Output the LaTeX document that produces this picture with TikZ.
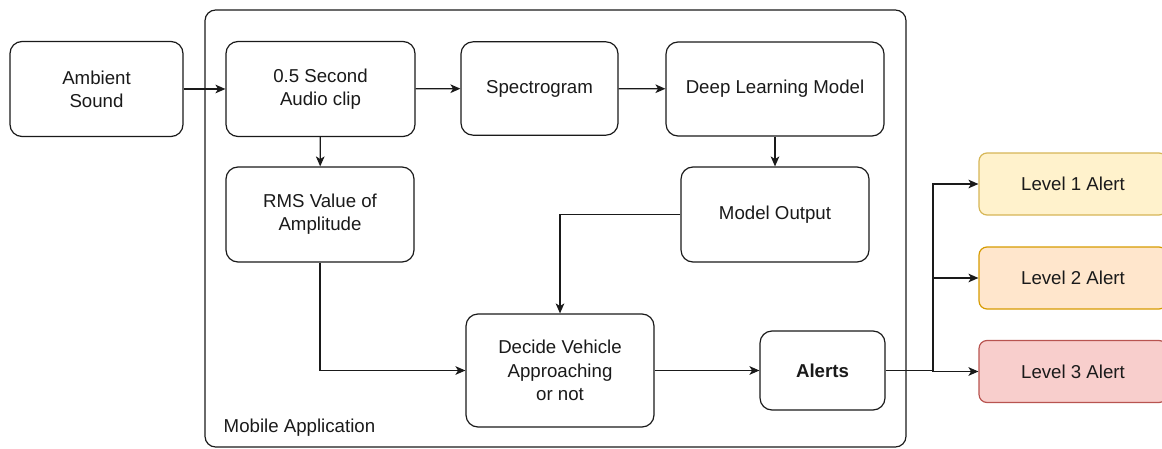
\documentclass[tikz,border=0pt]{standalone}
\usepackage{fontspec}
\setmainfont{Liberation Sans}
\usepackage{xcolor}
\usepackage{tikz}
\usetikzlibrary{calc,arrows.meta,positioning}
\definecolor{lvonefill}{HTML}{FFF2CC}
\definecolor{lvoneline}{HTML}{D6B656}
\definecolor{lvtwofill}{HTML}{FFE6CC}
\definecolor{lvtwoline}{HTML}{D79B00}
\definecolor{lvthreefill}{HTML}{F8CECC}
\definecolor{lvthreeline}{HTML}{B85450}
\definecolor{ink}{HTML}{1A1A1A}

\begin{document}
\begin{tikzpicture}[x=0.75pt,y=-0.75pt,
    blk/.style={rounded corners=9pt,draw=ink,line width=0.9pt,fill=white,align=center,text=ink,font=\fontsize{14}{17.5}\selectfont,inner sep=2pt,minimum width=141.75pt,minimum height=71.25pt},
    lvl/.style={blk,rounded corners=6pt,minimum width=141pt,minimum height=46.5pt},
    arr/.style={-{Stealth[length=7.5pt,width=6.5pt,inset=2pt]},line width=0.9pt,draw=ink}]
   \useasboundingbox (0,0) rectangle (1162,449);
   \clip (0,0) rectangle (1162,449);
   % mobile application frame
   \draw[rounded corners=8pt,line width=0.9pt,draw=ink] (205,10) rectangle (906,447);
   \node[anchor=west,text=ink,font=\fontsize{14}{17}\selectfont] (app) at (219,428) {Mobile Application};
   \node[blk,minimum width=129.75pt] (amb) at (96.5,89) {Ambient\\Sound};
   \node[blk] (clip) at (320.5,89) {0.5 Second\\Audio clip};
   \node[blk,minimum width=117.75pt,minimum height=70pt] (spec) at (539.5,88.5) {Spectrogram};
   \node[blk,minimum width=163.5pt,minimum height=70.5pt] (dlm) at (775,89) {Deep Learning Model};
   \node[blk,minimum width=141pt] (rms) at (320,214.5) {RMS Value of\\Amplitude};
   \node[blk,minimum width=141pt] (mout) at (775,214.5) {Model Output};
   \node[blk,minimum width=141pt,minimum height=84.75pt] (dec) at (560,370.5) {Decide Vehicle\\Approaching\\or not};
   \node[blk,minimum width=93.75pt,minimum height=59.25pt,font=\fontsize{14}{17.5}\selectfont\bfseries] (alr) at (822.5,370.5) {Alerts};
   \node[lvl,fill=lvonefill,draw=lvoneline] (lv1) at (1073,184) {Level 1 Alert};
   \node[lvl,fill=lvtwofill,draw=lvtwoline] (lv2) at (1073,278) {Level 2 Alert};
   \node[lvl,fill=lvthreefill,draw=lvthreeline] (lv3) at (1073,371.5) {Level 3 Alert};
   \coordinate (fork) at (933,370.5);
   \draw[arr] (amb)--(clip);
   \draw[arr] (clip)--(spec);
   \draw[arr] (spec)--(dlm);
   \draw[arr] (clip)--(rms);
   \draw[arr] (dlm)--(mout);
   \draw[arr] (mout.west)-|(dec.north);
   \draw[arr] (rms.south)|-(dec.west);
   \draw[arr] (dec)--(alr);
   \draw[arr] (alr.east)--(fork)|-(lv1.west);
   \draw[arr] (fork)|-(lv2.west);
   \draw[arr] (fork)|-(lv3.west);
  \end{tikzpicture}
\end{document}
